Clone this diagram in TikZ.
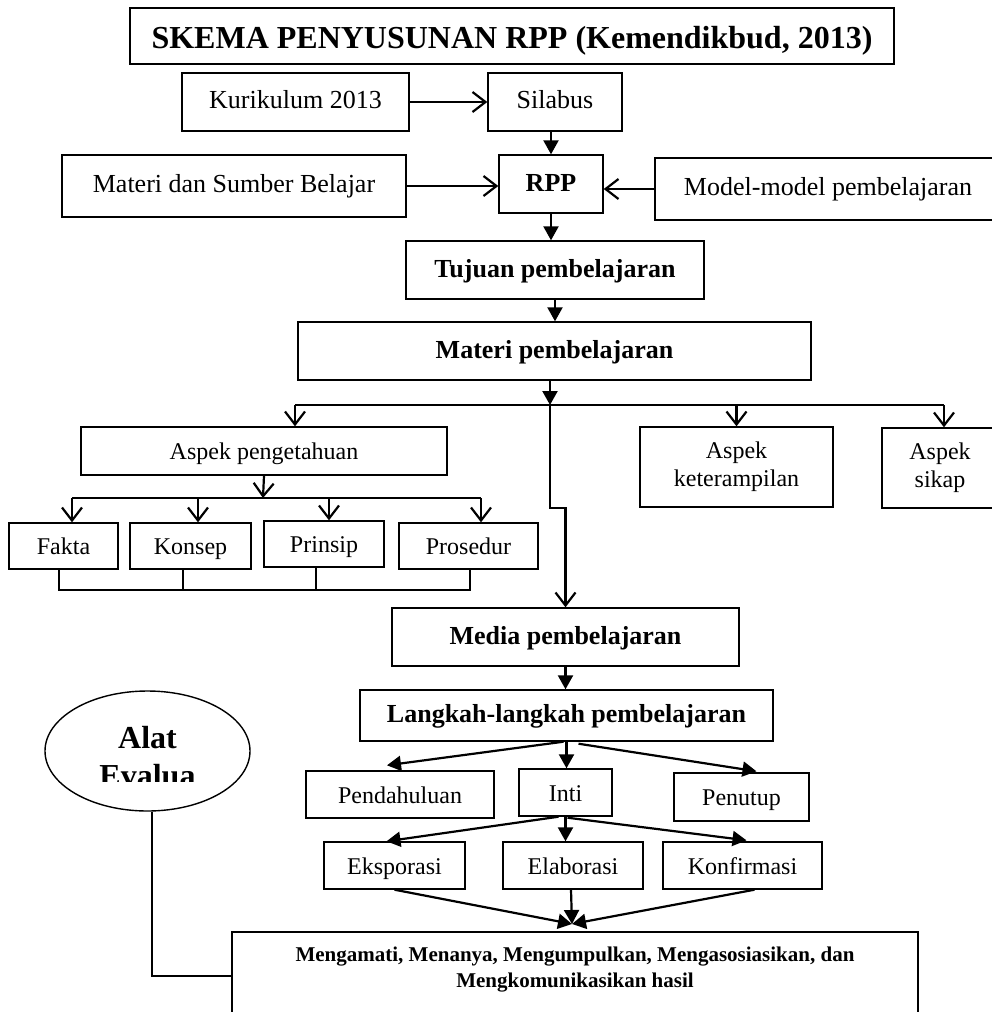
\documentclass[tikz,border=0pt]{standalone}
\usepackage{fontspec}
\setmainfont{Liberation Serif}
\usetikzlibrary{arrows.meta,shapes.geometric,calc}
\tikzset{
  kotakdasar/.style={draw,line width=1.4pt,rectangle,inner sep=0pt,align=center},
  kotak/.style={kotakdasar,text height=18pt,text depth=6pt,font=\fontsize{26}{30}\selectfont},
  kotakb/.style={kotakdasar,text height=18pt,text depth=4pt,font=\fontsize{26}{30}\selectfont\bfseries},
  kotakk/.style={kotakdasar,text height=17pt,text depth=0pt,font=\fontsize{24}{28}\selectfont},
  kotakdua/.style={kotakdasar,font=\fontsize{24}{28}\selectfont},
  panah/.style={line width=2.2pt,-{Triangle[length=14pt,width=15pt]}},
  panahv/.style={line width=2.2pt,-{Straight Barb[length=13pt,width=20pt]}},
  garis/.style={line width=2pt}
}
\begin{document}
\begin{tikzpicture}[x=1pt,y=-1pt]
  \useasboundingbox (0,0) rectangle (992,1012);
  % top part
  \node[kotakb,minimum width=764,minimum height=56,text height=24pt,text depth=0pt,font=\fontsize{32}{36}\selectfont\bfseries] (judul) at (512,36) {SKEMA PENYUSUNAN RPP (Kemendikbud, 2013)};
  \node[kotak,minimum width=227,minimum height=58] (kurikulum) at (295.5,102) {Kurikulum 2013};
  \node[kotak,minimum width=134,minimum height=58] (silabus) at (555,102) {Silabus};
  \node[kotak,minimum width=344,minimum height=62] (sumber) at (234,186) {Materi dan Sumber Belajar};
  \node[kotakb,minimum width=104,minimum height=58] (rpp) at (551,184) {RPP};
  \node[kotak,minimum width=346,minimum height=62] (model) at (828,189) {Model-model pembelajaran};
  \node[kotakb,minimum width=298,minimum height=58] (tujuan) at (555,270) {Tujuan pembelajaran};
  \node[kotakb,minimum width=513,minimum height=58] (materi) at (554.5,351) {Materi pembelajaran};
  \draw[panahv] (kurikulum.east) -- (kurikulum.east -| silabus.west);
  \draw[panah] (rpp.north |- silabus.south) -- (rpp.north);
  \draw[panahv] (sumber.east) -- (sumber.east -| rpp.west);
  \draw[panahv] (model.west) -- (model.west -| rpp.east);
  \draw[panah] (rpp.south) -- (rpp.south |- tujuan.north);
  \draw[panah] (tujuan.south) -- (tujuan.south |- materi.north);
  % aspek
  \node[kotakk,minimum width=366,minimum height=48] (pengetahuan) at (264,451) {Aspek pengetahuan};
  \node[kotakdua,minimum width=193,minimum height=80] (keterampilan) at (736.5,467) {Aspek\\keterampilan};
  \node[kotakdua,minimum width=116,minimum height=80] (sikap) at (940,468) {Aspek\\sikap};
  \coordinate (bagi) at (550,405);
  \coordinate (kiri) at (295,405);
  \coordinate (kanan) at (944,405);
  \draw[panah] (bagi |- materi.south) -- (bagi);
  \draw[garis] (kiri) -- (kanan);
  \draw[panahv] (kiri) -- (kiri |- pengetahuan.north);
  \draw[panahv] (bagi -| keterampilan.north) -- (keterampilan.north);
  \draw[panahv] (kanan) -- (kanan |- sikap.north);
  \node[kotakk,minimum width=109,minimum height=46] (fakta) at (63.5,546) {Fakta};
  \node[kotakk,minimum width=121,minimum height=46] (konsep) at (190.5,546) {Konsep};
  \node[kotakk,minimum width=120,minimum height=46] (prinsip) at (324,544) {Prinsip};
  \node[kotakk,minimum width=139,minimum height=46] (prosedur) at (468.5,546) {Prosedur};
  \coordinate (simpul) at (263,498);
  \draw[panahv] (pengetahuan.south) -- (simpul);
  \draw[garis] (72,498) -- (481,498);
  \foreach \nama/\px in {fakta/72,konsep/198,prinsip/329,prosedur/481}{
    \coordinate (t) at (\px,498);
    \draw[panahv] (t) -- (t |- \nama.north);
  }
  \draw[garis] (fakta.south) ++(-5,0) -- ++(0,20) -| ($(prosedur.south)+(1.5,0)$);
  \draw[garis] ($(konsep.south)+(-8,0)$) -- ++(0,20);
  \draw[garis] ($(prinsip.south)+(-8,0)$) -- ++(0,22);
  % media dan langkah
  \node[kotakb,minimum width=347,minimum height=58] (media) at (565.5,637) {Media pembelajaran};
  \draw[panahv] (bagi) -- ++(0,103) -| (media.north);
  \node[kotakb,minimum width=413,minimum height=51] (langkah) at (566.5,715.5) {Langkah-langkah pembelajaran};
  \draw[panah] (media.south) -- (media.south |- langkah.north);
  \node[kotakk,minimum width=188,minimum height=47] (pendahuluan) at (400,794.5) {Pendahuluan};
  \node[kotakk,minimum width=93,minimum height=47] (inti) at (565.5,792.5) {Inti};
  \node[kotakk,minimum width=135,minimum height=48] (penutup) at (741.5,797) {Penutup};
  \draw[panah] ($(langkah.south)+(-3,0)$) -- ($(pendahuluan.north)+(-13,-5)$);
  \draw[panah] (langkah.south) -- (langkah.south |- inti.north);
  \draw[panah] ($(langkah.south)+(12,2)$) -- ($(penutup.north)+(15,-1)$);
  \node[kotakk,minimum width=141,minimum height=47] (eksporasi) at (394.5,865.5) {Eksporasi};
  \node[kotakk,minimum width=140,minimum height=47] (elaborasi) at (573,865.5) {Elaborasi};
  \node[kotakk,minimum width=159,minimum height=47] (konfirmasi) at (742.5,865.5) {Konfirmasi};
  \draw[panah] ($(inti.south)+(-7,0)$) -- ($(eksporasi.north)+(-8,0)$);
  \draw[panah] (inti.south) -- (inti.south |- elaborasi.north);
  \draw[panah] ($(inti.south)+(2,1)$) -- ($(konfirmasi.north)+(4,-1)$);
  % hasil
  \node[kotakdasar,minimum width=686,minimum height=88,
    label={[font=\fontsize{21}{26}\selectfont\bfseries,align=center,anchor=north,inner sep=0pt,yshift=-15pt]north:{Mengamati, Menanya, Mengumpulkan, Mengasosiasikan, dan\\Mengkomunikasikan hasil}}] (mengamati) at (575,976) {};
  \coordinate (temu) at (572,924);
  \draw[panah] (eksporasi.south) -- (temu);
  \draw[panah] ($(elaborasi.south)+(-2,0)$) -- (temu);
  \draw[panah] ($(konfirmasi.south)+(12,0)$) -- (temu);
  % alat evaluasi
  \node[draw,ellipse,line width=1.4pt,minimum width=205,minimum height=120] (alat) at (147.5,751) {};
  \begin{scope}
    \clip (40,690) rectangle (255,781);
    \node[font=\fontsize{32}{38}\selectfont\bfseries,align=center] (alatteks) at (147.5,757) {Alat\\Evalua};
  \end{scope}
  \draw[garis] ($(alat.south)+(4,0)$) |- (mengamati.west);
\end{tikzpicture}
\end{document}
